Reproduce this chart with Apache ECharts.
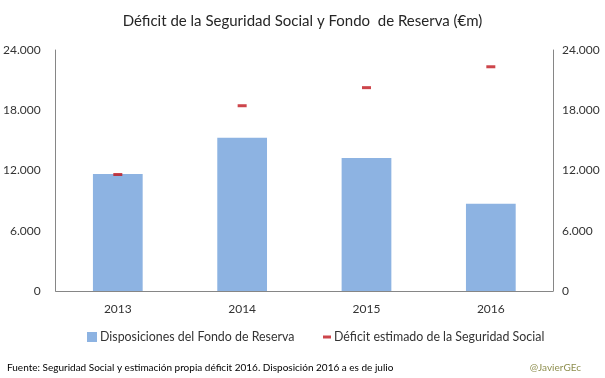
<!DOCTYPE html>
<html>
<head>
<meta charset="utf-8">
<script src="https://cdn.jsdelivr.net/npm/echarts@6/dist/echarts.min.js"></script>
<style>html,body{margin:0;padding:0;background:#fff}#c{width:605px;height:378px}</style>
</head>
<body>
<div id="c"></div>
<script>
const categories = ['2013', '2014', '2015', '2016'];
const disposiciones = [11650, 15270, 13250, 8700];
const deficit = [11600, 18450, 20250, 22330];
const yTicks = [0, 6000, 12000, 18000, 24000];
const yTickLabels = ['0', '6.000', '12.000', '18.000', '24.000'];
const seriesNames = ['Disposiciones del Fondo de Reserva', 'Déficit estimado de la Seguridad Social'];
const titleText = 'Déficit de la Seguridad Social y Fondo  de Reserva (€m)';
const sourceText = 'Fuente: Seguridad Social y estimación propia déficit 2016. Disposición 2016 a es de julio';
const authorText = '@JavierGEc';

const FONT = 'Lato';
const fmt = v => { const i = yTicks.indexOf(v); return i >= 0 ? yTickLabels[i] : ''; };
const axisLineStyle = { color: '#868686', width: 1 };

const yAxisBase = {
  type: 'value', min: yTicks[0], max: yTicks[yTicks.length - 1], interval: 6000,
  axisLine: { show: true, lineStyle: axisLineStyle },
  axisTick: { show: false },
  splitLine: { show: false },
  axisLabel: { formatter: fmt, color: '#333', fontFamily: FONT, fontSize: 12 }
};

const chart = echarts.init(document.getElementById('c'), null, { renderer: 'canvas' });
chart.setOption({
  animation: false,
  backgroundColor: '#fff',
  title: [
    { text: titleText, left: 'center', top: 9, textStyle: { fontFamily: FONT, fontSize: 15, fontWeight: 'normal', color: '#262626' } },
    { text: sourceText, left: 2, top: 358, textStyle: { fontFamily: FONT, fontSize: 10, fontWeight: 'normal', color: '#000' } },
    { text: authorText, right: 19, top: 358, textStyle: { fontFamily: FONT, fontSize: 10, fontWeight: 'normal', color: '#8f8f4f' } }
  ],
  grid: { left: 54, right: 52, top: 50, bottom: 87, containLabel: false },
  legend: [
    { data: [seriesNames[0]], left: 82, top: 326, itemWidth: 10, itemHeight: 10, icon: 'rect', itemGap: 4,
      textStyle: { fontFamily: FONT, fontSize: 12.4, color: '#333', padding: [0, 0, 0, -2] } },
    { data: [seriesNames[1]], left: 318, top: 326, itemWidth: 8, itemHeight: 3, icon: 'rect',
      textStyle: { fontFamily: FONT, fontSize: 12.4, color: '#333', padding: [0, 0, 0, -2] } }
  ],
  xAxis: {
    type: 'category', data: categories,
    axisLine: { show: true, lineStyle: axisLineStyle },
    axisTick: { show: false },
    axisLabel: { color: '#333', fontFamily: FONT, fontSize: 12, margin: 12 }
  },
  yAxis: [
    Object.assign({}, yAxisBase, { position: 'left', axisLabel: Object.assign({}, yAxisBase.axisLabel, { margin: 15 }) }),
    Object.assign({}, yAxisBase, { position: 'right', axisLabel: Object.assign({}, yAxisBase.axisLabel, { margin: 9 }) })
  ],
  series: [
    { name: seriesNames[0], type: 'bar', data: disposiciones, barWidth: '40%', yAxisIndex: 0,
      itemStyle: { color: '#8DB3E2' } },
    { name: seriesNames[1], type: 'scatter', data: deficit, yAxisIndex: 0, symbol: 'rect', symbolSize: [9, 3],
      itemStyle: { color: '#C0171E' }, z: 5 }
  ]
});
</script>
</body>
</html>
